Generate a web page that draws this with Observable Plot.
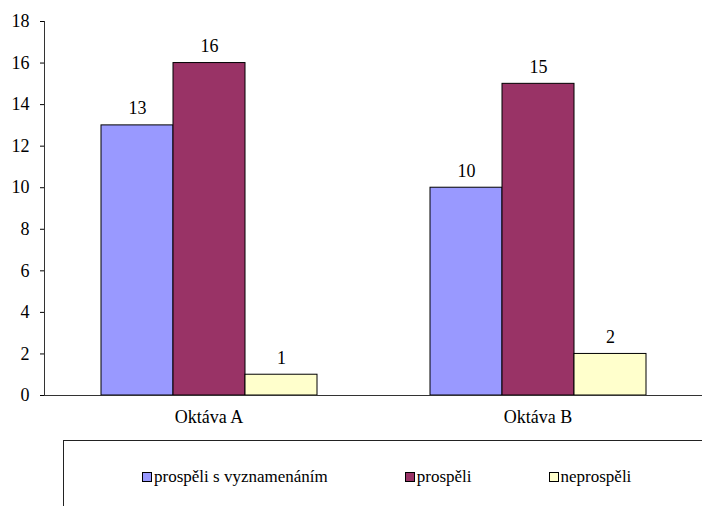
<!DOCTYPE html>
<html>
<head>
<meta charset="utf-8">
<script src="https://cdn.jsdelivr.net/npm/d3@7"></script>
<script src="https://cdn.jsdelivr.net/npm/@observablehq/plot@0.6"></script>
<style>
  html, body { margin: 0; padding: 0; background: #fff; }
  #wrap { position: relative; width: 702px; height: 506px; overflow: hidden; }
  #legend { position: absolute; left: 63px; top: 440px; width: 660px; height: 80px; border-top: 1px solid #222; border-left: 1px solid #222; box-sizing: border-box; }
  #legend .items { display: flex; gap: 77px; padding-left: 78px; padding-top: 26px; font-size: 17px; color: #000; }
  #legend .item { display: flex; align-items: center; white-space: nowrap; }
  #legend .sw { width: 8px; height: 8px; border: 1px solid #000; margin-right: 2px; }
</style>
</head>
<body>
<div id="wrap">
  <div id="chart"></div>
  <div id="legend"><div class="items"></div></div>
</div>
<script>
const categories = ["Oktáva A", "Oktáva B"];
const series = ["prospěli s vyznamenáním", "prospěli", "neprospěli"];
const colors = ["#9999FF", "#993366", "#FFFFCC"];
const valuesA = [13, 16, 1];
const valuesB = [10, 15, 2];
const yTicks = [0, 2, 4, 6, 8, 10, 12, 14, 16, 18];

const FONT = "'Liberation Serif', serif";
const allValues = [valuesA, valuesB];
const data = [];
categories.forEach((c, i) => series.forEach((s, j) => data.push({cat: c, s, v: allValues[i][j]})));

const chart = Plot.plot({
  width: 702,
  height: 440,
  marginLeft: 44,
  marginRight: 0,
  marginTop: 21,
  marginBottom: 45,
  style: {background: "#fff", color: "#000", fontFamily: FONT},
  fx: {domain: categories, paddingInner: 0, paddingOuter: 0, label: null, axis: null},
  x: {domain: series, paddingInner: 0, paddingOuter: 0.764, axis: null},
  y: {domain: [0, 18], ticks: yTicks, label: null},
  color: {domain: series, range: colors},
  marks: [
    Plot.axisY({ticks: yTicks, tickSize: 4, tickPadding: 11, fontSize: 18, fontFamily: FONT, label: null, fx: categories[0]}),
    Plot.axisFx({anchor: "bottom", tickSize: 0, tickPadding: 15, fontSize: 18, fontFamily: FONT, label: null}),
    Plot.barY(data, {fx: "cat", x: "s", y: "v", fill: "s", stroke: "#000", strokeWidth: 1}),
    Plot.text(data, {fx: "cat", x: "s", y: "v", text: d => String(d.v), lineAnchor: "bottom", dy: -11, fontSize: 18, fontFamily: FONT, fill: "#000"}),
    Plot.ruleY([0], {stroke: "#333", strokeWidth: 1}),
    Plot.frame({anchor: "left", fx: categories[0], stroke: "#333"})
  ]
});
document.getElementById("chart").appendChild(chart);

const items = document.querySelector("#legend .items");
series.forEach((s, i) => {
  const el = document.createElement("div");
  el.className = "item";
  const sw = document.createElement("span");
  sw.className = "sw";
  sw.style.background = colors[i];
  const t = document.createElement("span");
  t.textContent = s;
  el.appendChild(sw); el.appendChild(t);
  items.appendChild(el);
});

document.querySelectorAll("#wrap, #wrap svg, #wrap svg g, #wrap text, #wrap tspan, #legend, #legend *").forEach(n => {
  n.style.setProperty("font-family", FONT, "important");
});
</script>
</body>
</html>
